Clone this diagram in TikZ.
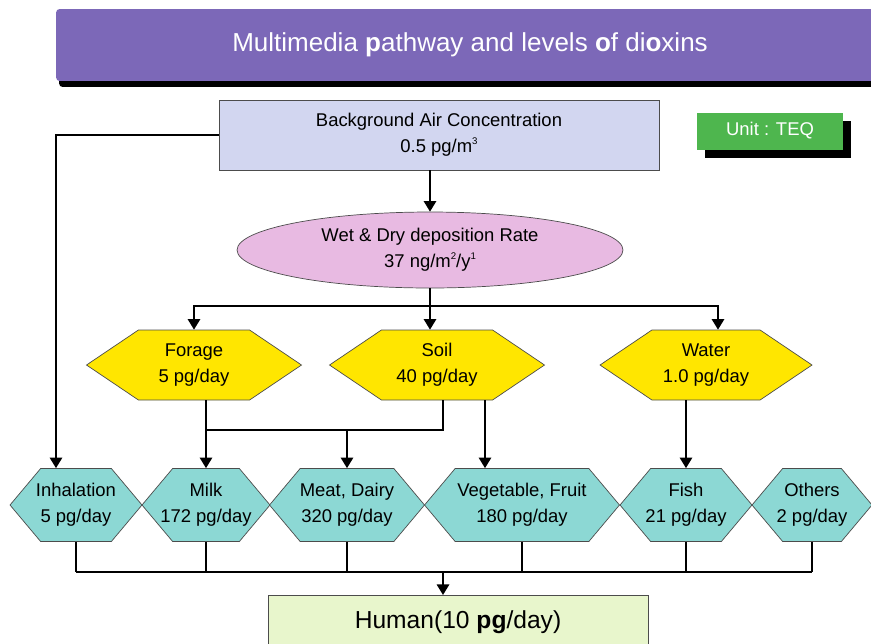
\documentclass[tikz,border=0pt]{standalone}
\usepackage{fontspec}
\setmainfont{Liberation Sans}
\usetikzlibrary{arrows.meta,shapes.geometric,shapes.symbols,shadows,calc}

\definecolor{bannerpurple}{RGB}{124,104,184}
\definecolor{airblue}{RGB}{210,214,240}
\definecolor{unitgreen}{RGB}{78,182,78}
\definecolor{deppink}{RGB}{232,186,226}
\definecolor{srcyellow}{RGB}{255,230,0}
\definecolor{intaketeal}{RGB}{140,216,212}
\definecolor{humangreen}{RGB}{232,246,204}

% two centred lines that may run over the slanted sides
\newcommand{\hexlines}[2]{\makebox[0pt]{#1}\\\makebox[0pt]{#2}}
% small raised index
\newcommand{\upidx}[1]{\raisebox{0.9ex}{\fontsize{5.5}{6}\selectfont #1}}

\tikzset{
  flow/.style={line width=1.1pt,-{Triangle[width=7pt,length=6pt]}},
  link/.style={line width=1.1pt},
  banner/.style={rectangle,rounded corners=2pt,fill=bannerpurple,text=white,
    minimum width=16.56cm,minimum height=1.44cm,font=\fontsize{14.8}{16}\selectfont,
    drop shadow={shadow xshift=0.06cm,shadow yshift=-0.12cm,fill=black,opacity=1}},
  airbox/.style={rectangle,draw=black!70,fill=airblue,minimum width=8.8cm,
    minimum height=1.4cm,align=center,font=\fontsize{10.5}{15}\selectfont},
  unitbox/.style={rectangle,fill=unitgreen,text=white,minimum width=2.92cm,
    minimum height=0.74cm,font=\fontsize{10.5}{12}\selectfont,
    drop shadow={shadow xshift=0.16cm,shadow yshift=-0.16cm,fill=black,opacity=1}},
  depell/.style={ellipse,draw=black!70,fill=deppink,minimum width=7.72cm,
    minimum height=1.52cm,inner sep=0pt,align=center,font=\fontsize{10.5}{15}\selectfont},
  source/.style={signal,signal to=east and west,signal pointer angle=68,
    draw=black!70,fill=srcyellow,minimum height=1.4cm,minimum width=4.3cm,
    inner xsep=0pt,align=center,font=\fontsize{10.5}{15}\selectfont},
  intake/.style={signal,signal to=east and west,signal pointer angle=100,
    draw=black!70,fill=intaketeal,minimum height=1.46cm,
    inner xsep=0pt,align=center,font=\fontsize{10.5}{15}\selectfont},
  humanbox/.style={rectangle,draw=black!70,fill=humangreen,minimum width=7.6cm,
    minimum height=1.08cm,font=\fontsize{14}{16}\selectfont},
}

\begin{document}
\begin{tikzpicture}[x=0.02cm,y=-0.02cm]
\useasboundingbox (0,0) rectangle (871,643);
\clip (0,0) rectangle (871,643);

\node (title) [banner] at (470,45) {Multimedia \textbf{p}athway and levels \textbf{o}f di\textbf{o}xins};
\node (air) [airbox] at (439,135) {Background Air Concentration\\0.5 pg/m\upidx{3}};
\node (unit) [unitbox] at (770,131) {Unit : TEQ};
\node (dep) [depell] at (430,250) {Wet \& Dry deposition Rate\\37 ng/m\upidx{2}/y\upidx{1}};

\node (forage) [source] at (194,365) {\hexlines{Forage}{5 pg/day}};
\node (soil) [source] at (437,365) {\hexlines{Soil}{40 pg/day}};
\node (water) [source,minimum width=4.24cm] at (706,365) {\hexlines{Water}{1.0 pg/day}};

\node (inhal) [intake,minimum width=2.64cm] at (76,505) {\hexlines{Inhalation}{5 pg/day}};
\node (milk) [intake,minimum width=2.56cm] at (206,505) {\hexlines{Milk}{172 pg/day}};
\node (meat) [intake,minimum width=3.1cm] at (347,505) {\hexlines{Meat, Dairy}{320 pg/day}};
\node (veg) [intake,minimum width=3.9cm] at (522,505) {\hexlines{Vegetable, Fruit}{180 pg/day}};
\node (fish) [intake,minimum width=2.64cm] at (686,505) {\hexlines{Fish}{21 pg/day}};
\node (others) [intake,minimum width=2.4cm] at (812,505) {\hexlines{Others}{2 pg/day}};

\node (human) [humanbox,anchor=north] at (458,595) {Human(10 \textbf{pg}/day)};

% air to deposition and inhalation
\draw[flow] (dep.north |- air.south) -- (dep.north);
\coordinate (inhalin) at ($(inhal.north)+(-20,0)$);
\draw[flow] (air.west) -| (inhalin);

% deposition to the three media
\coordinate (split) at (430,306);
\draw[link] (dep.south) -- (split);
\draw[flow] (split) -| (forage.north);
\draw[flow] (split) -- (split |- soil.north);
\coordinate (waterin) at ($(water.north)+(12,0)$);
\draw[flow] (split) -| (waterin);

% media to food
\coordinate (join) at (206,430);
\draw[link] (join |- forage.south) -- (join) -| ($(soil.south)+(6,0)$);
\draw[flow] (join) -- (milk.north);
\draw[flow] (join -| meat.north) -- (meat.north);
\coordinate (vegin) at ($(soil.south)+(48,0)$);
\draw[flow] (vegin) -- (vegin |- veg.north);
\draw[flow] (fish.north |- water.south) -- (fish.north);

% food to human
\coordinate (collect) at (443,572);
\foreach \n in {inhal,milk,meat,veg,fish,others}
  \draw[link] (\n.south) -- (\n.south |- collect);
\draw[link] (inhal.south |- collect) -- (others.south |- collect);
\draw[flow] (collect) -- (collect |- human.north);
\end{tikzpicture}
\end{document}
